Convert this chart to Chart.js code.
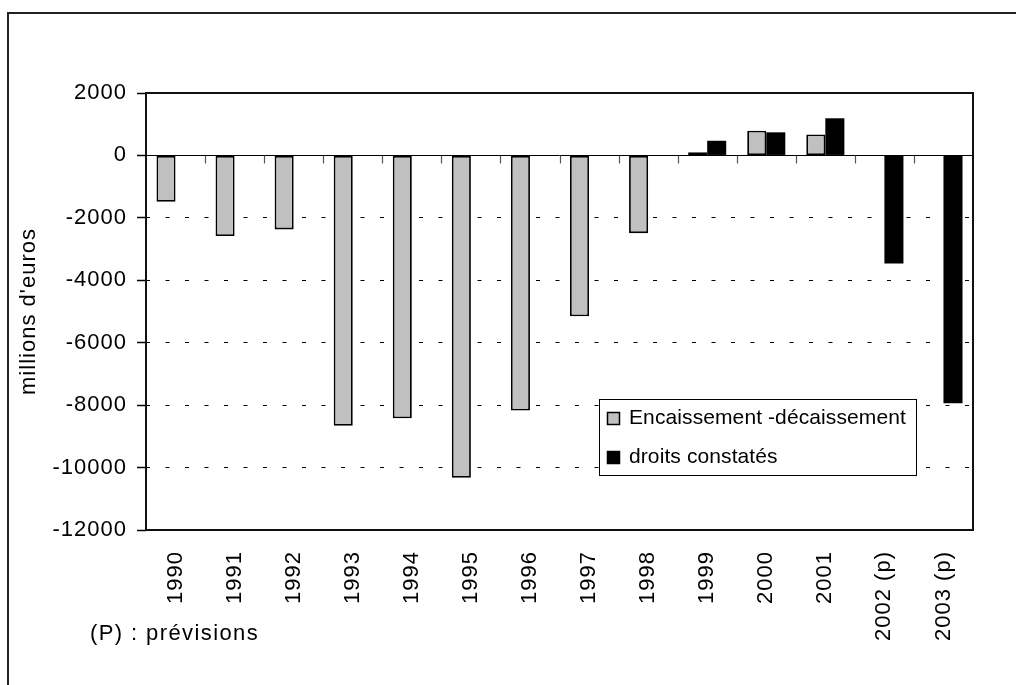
<!DOCTYPE html>
<html>
<head>
<meta charset="utf-8">
<script src="https://cdn.jsdelivr.net/npm/chart.js@4/dist/chart.umd.min.js"></script>
<style>
  html, body { margin: 0; padding: 0; background: #fff; overflow: hidden; }
  #wrap { position: relative; width: 1016px; height: 685px; }
  #frame { position: absolute; left: 7px; top: 12px; width: 1040px; height: 700px;
           border-top: 2px solid #222; border-left: 2px solid #222; pointer-events: none; }
  canvas { position: absolute; left: 0; top: 0; }
</style>
</head>
<body>
<div id="wrap">
  <canvas id="c" width="1016" height="685"></canvas>
  <div id="frame"></div>
</div>
<script>
// Solde annuel, en millions d'euros
const years = ['1990', '1991', '1992', '1993', '1994', '1995', '1996',
               '1997', '1998', '1999', '2000', '2001', '2002 (p)', '2003 (p)'];
const encaissement = [-1480, -2580, -2370, -8660, -8420, -10330, -8170,
                      -5150, -2490, 100, 790, 670, null, null];
const droits = [null, null, null, null, null, null, null,
                null, null, 470, 740, 1190, -3460, -7940];
const yTicks = [2000, 0, -2000, -4000, -6000, -8000, -10000, -12000];
const seriesNames = ['Encaissement -décaissement', 'droits constatés'];
const noteText = '(P) : prévisions';
const yTitle = "millions d'euros";

const FONT = '"Liberation Sans", Arial, sans-serif';
const AXIS_SIZE = 22;
const AXIS_SPACING = '1px';

// letter spacing for the axis texts (applied on the canvas context)
const spacingPlugin = {
  id: 'spacing',
  beforeUpdate(chart) { chart.ctx.letterSpacing = AXIS_SPACING; },
  beforeDraw(chart) { chart.ctx.letterSpacing = AXIS_SPACING; }
};

// zero line, category tick marks on it, and the plot frame
const framePlugin = {
  id: 'plotFrame',
  beforeDatasetsDraw(chart) {
    const { ctx, chartArea: a, scales: { x, y } } = chart;
    const y0 = Math.round(y.getPixelForValue(0)) + 0.5;
    ctx.save();
    ctx.strokeStyle = '#000';
    ctx.lineWidth = 1;
    ctx.beginPath();
    ctx.moveTo(a.left, y0);
    ctx.lineTo(a.right, y0);
    ctx.stroke();
    ctx.strokeStyle = '#555';
    ctx.lineWidth = 1.2;
    for (let i = 0; i < years.length - 1; i++) {
      const xb = Math.round((x.getPixelForValue(i) + x.getPixelForValue(i + 1)) / 2) + 0.5;
      ctx.beginPath();
      ctx.moveTo(xb, y0);
      ctx.lineTo(xb, y0 + 8);
      ctx.stroke();
    }
    ctx.restore();
  },
  afterDraw(chart) {
    const { ctx, chartArea: a } = chart;
    ctx.save();
    ctx.strokeStyle = '#111';
    ctx.lineWidth = 2;
    ctx.strokeRect(a.left, a.top, a.right - a.left, a.bottom - a.top);
    ctx.restore();
  }
};

// legend box inside the plot, and the footnote
const legendPlugin = {
  id: 'boxLegend',
  afterDraw(chart) {
    const ctx = chart.ctx;
    const bx = 599.5, by = 399.5, bw = 317, bh = 76;
    ctx.save();
    ctx.fillStyle = '#fff';
    ctx.fillRect(bx, by, bw, bh);
    ctx.strokeStyle = '#000';
    ctx.lineWidth = 1;
    ctx.strokeRect(bx, by, bw, bh);
    const rows = [418.5, 457.5];
    chart.data.datasets.forEach((ds, i) => {
      const cy = rows[i];
      ctx.fillStyle = ds.backgroundColor;
      ctx.fillRect(607, cy - 6.5, 13, 13);
      ctx.strokeStyle = '#000';
      ctx.lineWidth = 1.5;
      ctx.strokeRect(607.5, cy - 6, 12, 12);
      ctx.fillStyle = '#000';
      ctx.font = '21px ' + FONT;
      ctx.letterSpacing = '0.1px';
      ctx.textAlign = 'left';
      ctx.textBaseline = 'middle';
      ctx.fillText(ds.label, 629, cy);
    });
    ctx.font = AXIS_SIZE + 'px ' + FONT;
    ctx.letterSpacing = '1.4px';
    ctx.textBaseline = 'alphabetic';
    ctx.fillText(noteText, 90, 640);
    ctx.restore();
  }
};

new Chart(document.getElementById('c'), {
  type: 'bar',
  data: {
    labels: years,
    datasets: [
      {
        label: seriesNames[0],
        data: encaissement,
        backgroundColor: '#c0c0c0',
        borderColor: '#000',
        borderWidth: 1.8,
        borderSkipped: false
      },
      {
        label: seriesNames[1],
        data: droits,
        backgroundColor: '#000',
        borderColor: '#000',
        borderWidth: 0
      }
    ]
  },
  options: {
    responsive: false,
    devicePixelRatio: 1,
    animation: false,
    events: [],
    categoryPercentage: 0.645,
    barPercentage: 1,
    layout: { padding: { top: 93, right: 43, bottom: 0, left: 8 } },
    plugins: {
      legend: { display: false },
      tooltip: { enabled: false },
      title: { display: false }
    },
    scales: {
      x: {
        grid: { display: false },
        border: { display: false },
        ticks: {
          autoSkip: false,
          minRotation: 90,
          maxRotation: 90,
          padding: 13,
          color: '#000',
          font: { family: FONT, size: AXIS_SIZE }
        },
        afterFit(scale) { scale.height = 155; }
      },
      y: {
        min: -12000,
        max: 2000,
        afterBuildTicks(scale) { scale.ticks = yTicks.map(v => ({ value: v })); },
        grid: {
          color(c) {
            const v = c.tick ? c.tick.value : 0;
            return (v < 0 && v > -12000) ? '#000' : 'rgba(0,0,0,0)';
          },
          lineWidth: 1,
          tickColor: '#000',
          tickWidth: 1.5,
          tickLength: 9,
          tickBorderDash: []
        },
        border: { display: false, dash: [4, 15.5] },
        ticks: {
          padding: 10,
          color: '#000',
          font: { family: FONT, size: AXIS_SIZE },
          callback: (v) => String(v)
        },
        title: {
          display: true,
          text: yTitle,
          color: '#000',
          font: { family: FONT, size: AXIS_SIZE },
          padding: { top: 8, bottom: 0 }
        },
        afterFit(scale) { scale.width = 138; }
      }
    }
  },
  plugins: [spacingPlugin, framePlugin, legendPlugin]
});
</script>
</body>
</html>
